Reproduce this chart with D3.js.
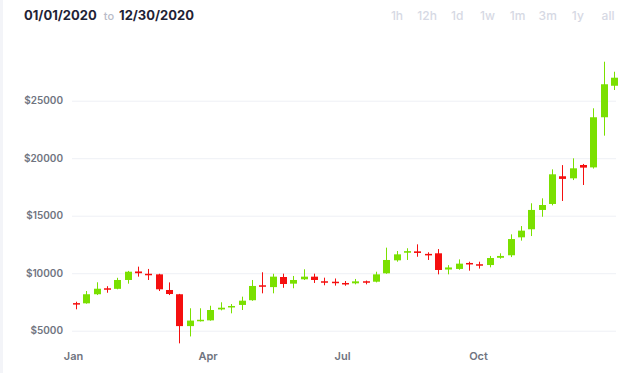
<!DOCTYPE html>
<html>
<head>
<meta charset="utf-8">
<script src="https://cdn.jsdelivr.net/npm/d3@7"></script>
<style>
  html, body { margin: 0; padding: 0; background: #fff; }
  body { width: 640px; height: 373px; overflow: hidden; font-family: Inter, "Open Sans", sans-serif; }
</style>
</head>
<body>
<svg id="chart" width="640" height="373"></svg>
<script>
// weekly candles, first one on Jan 3 2020
const startDate = new Date(2020, 0, 3);
const opens  = [7400, 7380, 8170, 8690, 8640, 9410, 10150, 9950, 9900, 8540, 8170, 5400, 5880, 5900, 6850, 7090, 7240, 7650, 8950, 8790, 9670, 9090, 9470, 9700, 9300, 9260, 9150, 9120, 9300, 9260, 9990, 11120, 11780, 11900, 11680, 11730, 10320, 10370, 10890, 10780, 10710, 11340, 11560, 13120, 13820, 15500, 16020, 18430, 18250, 19410, 19200, 23560, 26300];
const highs  = [7520, 8450, 9210, 8870, 9600, 10200, 10570, 10370, 9950, 9200, 8200, 6950, 6950, 7170, 7470, 7320, 7960, 9410, 10080, 9950, 9960, 9760, 10340, 9960, 9610, 9540, 9320, 9500, 9360, 10130, 12220, 11930, 12170, 12510, 11820, 12100, 10700, 11200, 11000, 11000, 11500, 11730, 13380, 14100, 16080, 16510, 19030, 19400, 19990, 19500, 24340, 28390, 27520];
const lows   = [6860, 7350, 8100, 8300, 8600, 9090, 9700, 9410, 8450, 8100, 3900, 4500, 5800, 5870, 6770, 6510, 6800, 7600, 8250, 8250, 8730, 8690, 9410, 9150, 8950, 8920, 8910, 9030, 9030, 9200, 9950, 11000, 11150, 11430, 11150, 9900, 9900, 10300, 10220, 10400, 10510, 11260, 11400, 12830, 13230, 14910, 15900, 16280, 18100, 17670, 19100, 21960, 25930];
const closes = [7350, 8170, 8650, 8640, 9410, 10130, 10000, 9890, 8600, 8190, 5400, 5880, 5950, 6800, 7000, 7150, 7610, 8890, 8870, 9700, 9060, 9410, 9700, 9410, 9240, 9150, 9100, 9290, 9230, 9900, 11150, 11640, 11920, 11760, 11640, 10280, 10500, 10830, 10790, 10660, 11320, 11500, 12970, 13700, 15500, 15930, 18600, 18200, 19120, 19180, 23560, 26430, 27000];

const priceTicks = [5000, 10000, 15000, 20000, 25000];
const monthTicks = [new Date(2020, 0, 1), new Date(2020, 3, 1), new Date(2020, 6, 1), new Date(2020, 9, 1)];
const monthLabels = ["Jan", "Apr", "Jul", "Oct"];
const rangeButtons = ["1h", "12h", "1d", "1w", "1m", "3m", "1y", "all"];

const candles = opens.map((o, i) => ({
  date: d3.timeDay.offset(startDate, 7 * i),
  open: o, high: highs[i], low: lows[i], close: closes[i]
}));

const svg = d3.select("#chart");

// light strip on the left edge
svg.append("rect").attr("x", 0).attr("y", 0).attr("width", 3).attr("height", 373).attr("fill", "#f3f4f8");

// header: date range
const head = svg.append("text").attr("x", 24).attr("y", 20)
  .style("font-size", "13px").style("font-weight", 700).attr("fill", "#1f2335");
head.append("tspan").text("01/01/2020");
head.append("tspan").attr("dx", 7).attr("fill", "#b9bcc8").style("font-weight", 500).style("font-size", "11px").text("to");
head.append("tspan").attr("dx", 5).text("12/30/2020");

// range buttons
const btnX = d3.scalePoint().domain(rangeButtons).range([397, 608]);
svg.selectAll(".btn").data(rangeButtons).enter().append("text")
  .attr("class", "btn")
  .attr("x", d => btnX(d)).attr("y", 20)
  .attr("text-anchor", "middle")
  .style("font-size", "12px").style("font-weight", 500)
  .attr("fill", "#d6d9e4")
  .text(d => d);

const x = d3.scaleTime()
  .domain([new Date(2020, 0, 1), new Date(2021, 0, 1)])
  .range([73, 614]);
const y = d3.scaleLinear()
  .domain([5000, 25000])
  .range([330.7, 100.7]);

// y axis + grid
const yAxis = svg.append("g")
  .attr("transform", "translate(72,0)")
  .call(d3.axisLeft(y).tickValues(priceTicks).tickSize(-544).tickPadding(9).tickFormat(d => "$" + d));
yAxis.select(".domain").remove();
yAxis.selectAll("line").attr("stroke", "#eef0f5");
yAxis.selectAll("text")
  .attr("fill", "#70747f")
  .style("font-size", "10px").style("font-weight", 600)
  .style("font-family", "Inter, sans-serif");

// x axis
const xAxis = svg.append("g")
  .attr("transform", "translate(0,348)")
  .call(d3.axisBottom(x).tickValues(monthTicks).tickSize(0).tickPadding(4)
    .tickFormat((d, i) => monthLabels[i]));
xAxis.select(".domain").remove();
xAxis.selectAll("text")
  .attr("fill", "#70747f")
  .style("font-size", "11px").style("font-weight", 600)
  .style("font-family", "Inter, sans-serif");

const up = "#7ae000", down = "#f50f0f";
const bodyW = 7;

const g = svg.append("g");
const c = g.selectAll(".candle").data(candles).enter().append("g").attr("class", "candle");

c.append("line")
  .attr("x1", d => Math.round(x(d.date)) + 0.5)
  .attr("x2", d => Math.round(x(d.date)) + 0.5)
  .attr("y1", d => y(d.high))
  .attr("y2", d => y(d.low))
  .attr("stroke", d => d.close >= d.open ? up : down)
  .attr("stroke-width", 1);

c.append("rect")
  .attr("x", d => Math.round(x(d.date)) + 0.5 - bodyW / 2)
  .attr("width", bodyW)
  .attr("y", d => y(Math.max(d.open, d.close)))
  .attr("height", d => Math.max(1.5, Math.abs(y(d.open) - y(d.close))))
  .attr("fill", d => d.close >= d.open ? up : down);
</script>
</body>
</html>
